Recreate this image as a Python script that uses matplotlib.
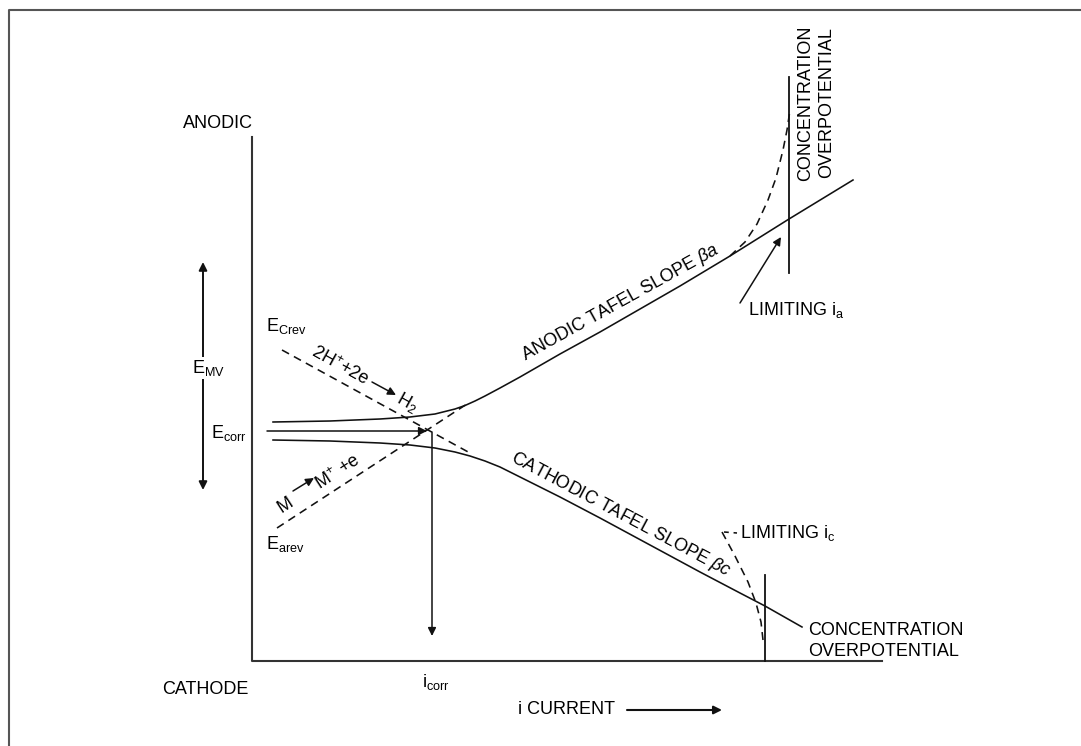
import matplotlib
matplotlib.use('Agg')
import matplotlib.pyplot as plt

plt.rcParams['font.family'] = ['Liberation Sans', 'DejaVu Sans']
plt.rcParams['mathtext.fontset'] = 'custom'
plt.rcParams['mathtext.rm'] = 'Liberation Sans'
plt.rcParams['mathtext.it'] = 'Liberation Sans:italic'

# schematic drawn in picture coordinates (x right, y down)
axis_x = [252, 252, 882]
axis_y = [137, 661, 661]

# anodic polarisation curve (solid, upper)
anodic_x = [273, 330, 380, 410, 435, 455, 465, 475, 485, 500, 520,
            560, 600, 640, 680, 730, 789, 853]
anodic_y = [422, 421, 419, 417, 414, 409, 405.5, 401, 396, 388, 377,
            354, 332, 309, 286, 256, 219, 180]

# cathodic polarisation curve (solid, lower)
cathodic_x = [273, 330, 380, 410, 435, 455, 470, 485, 500, 520, 560,
              600, 650, 700, 740, 765, 802]
cathodic_y = [440, 441, 443, 445, 448, 452, 456, 461, 467, 477, 497,
              518, 545, 572, 593, 606, 627]

# reversible reaction lines (dashed)
h2_x = [282, 470]
h2_y = [350, 453]
metal_x = [277, 470]
metal_y = [528, 402]

# concentration overpotential branches (dashed)
conc_a_x = [730, 745, 757, 768, 776, 783, 787, 790]
conc_a_y = [256, 242, 224, 200, 178, 150, 130, 110]
conc_c_x = [722, 735, 748, 756, 761, 763]
conc_c_y = [532, 556, 582, 603, 622, 640]

# limiting current lines
lim_a_x = [789, 789]
lim_a_y = [77, 273]
lim_c_x = [765, 765]
lim_c_y = [575, 661]

ink = '#111111'
lw = 1.15
dash = (0, (5, 3.5))

fig = plt.figure(figsize=(10.81, 7.46), dpi=100)
ax = fig.add_axes([0, 0, 1, 1])
ax.set_xlim(0, 1081)
ax.set_ylim(746, 0)
ax.axis('off')

# page frame (left and top only)
ax.plot([9, 9, 1081], [746, 10, 10], color='#555555', lw=1.5)

ax.plot(axis_x, axis_y, color='#333333', lw=1.5)
ax.plot(anodic_x, anodic_y, color=ink, lw=lw)
ax.plot(cathodic_x, cathodic_y, color=ink, lw=lw)
ax.plot(h2_x, h2_y, color=ink, lw=lw, ls=dash)
ax.plot(metal_x, metal_y, color=ink, lw=lw, ls=dash)
ax.plot(conc_a_x, conc_a_y, color=ink, lw=lw, ls=dash)
ax.plot(conc_c_x, conc_c_y, color=ink, lw=lw, ls=dash)
ax.plot(lim_a_x, lim_a_y, color=ink, lw=1.3)
ax.plot(lim_c_x, lim_c_y, color=ink, lw=1.3)
ax.plot([724, 737], [532, 533], color=ink, lw=lw, ls=(0, (3, 3)))


def arrow(x0, y0, x1, y1, style='-|>', lw=1.1, ms=12):
    ax.annotate('', xy=(x1, y1), xytext=(x0, y0),
                arrowprops=dict(arrowstyle=style, color=ink, lw=lw,
                                mutation_scale=ms, shrinkA=0, shrinkB=0))


# E_MV double arrow, i_corr arrows, current arrow
arrow(203, 490, 203, 262, style='<|-|>', lw=1.4)
arrow(267, 431, 427, 431)
arrow(432, 432, 432, 636)
arrow(627, 710, 722, 710, lw=1.5)
arrow(740, 303, 781, 237)
arrow(293, 491, 314, 478)
arrow(372, 382, 396, 395)

fs = 13
ax.text(218, 124, 'ANODIC', fontsize=fs, ha='center', va='center')
ax.text(205, 689, 'CATHODE', fontsize=fs, ha='center', va='center')
ax.text(209, 368, r'E$_\mathrm{MV}$', fontsize=fs, ha='center', va='center',
        bbox=dict(facecolor='white', edgecolor='none', pad=1))
ax.text(211, 433, r'E$_\mathrm{corr}$', fontsize=fs, ha='left', va='center')
ax.text(266, 326, r'E$_\mathrm{Crev}$', fontsize=fs, ha='left', va='center')
ax.text(266, 544, r'E$_\mathrm{arev}$', fontsize=fs, ha='left', va='center')
ax.text(340, 366, r'2H$^\mathrm{+}$+2e', fontsize=fs, ha='center', va='center',
        rotation=-29, rotation_mode='anchor')
ax.text(407, 402, r'H$_\mathrm{2}$', fontsize=fs, ha='center', va='center',
        rotation=-29, rotation_mode='anchor')
ax.text(285, 505, 'M', fontsize=fs, ha='center', va='center',
        rotation=33, rotation_mode='anchor')
ax.text(338, 472, r'M$^\mathrm{+}$ +e', fontsize=fs, ha='center', va='center',
        rotation=33, rotation_mode='anchor')
ax.text(620, 303, r'ANODIC TAFEL SLOPE $\mathit{\beta a}$', fontsize=fs,
        ha='center', va='center', rotation=29, rotation_mode='anchor')
ax.text(621, 515, r'CATHODIC TAFEL SLOPE $\mathit{\beta c}$', fontsize=fs,
        ha='center', va='center', rotation=-28, rotation_mode='anchor')
ax.text(816, 103, 'CONCENTRATION\nOVERPOTENTIAL', fontsize=fs, ha='center',
        va='center', rotation=90, linespacing=1.3)
ax.text(748, 310, r'LIMITING i$_\mathrm{a}$', fontsize=fs, ha='left', va='center')
ax.text(740, 533, r'LIMITING i$_\mathrm{c}$', fontsize=fs, ha='left', va='center')
ax.text(808, 641, 'CONCENTRATION\nOVERPOTENTIAL', fontsize=fs, ha='left',
        va='center', linespacing=1.3)
ax.text(422, 682, r'i$_\mathrm{corr}$', fontsize=fs, ha='left', va='center')
ax.text(518, 710, 'i CURRENT', fontsize=fs, ha='left', va='center')

fig.savefig('out.png', dpi=100, facecolor='white')
